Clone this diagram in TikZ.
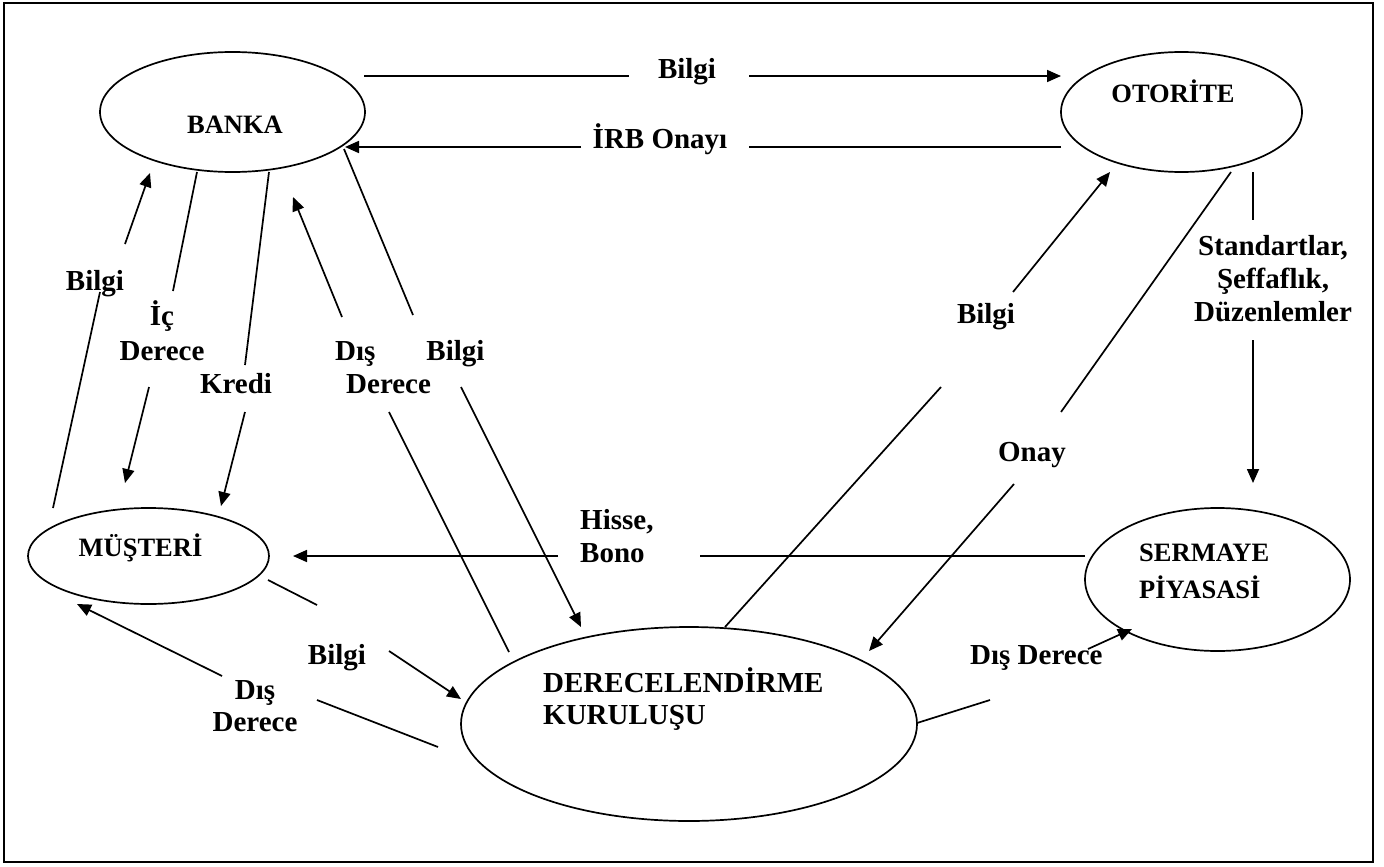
\documentclass[tikz,border=0pt]{standalone}
\usepackage{fontspec}
\setmainfont{Liberation Serif}
\usetikzlibrary{arrows.meta,shapes.geometric}
\tikzset{
  ell/.style={ellipse, draw, line width=1.7pt, inner sep=0pt, outer sep=0pt},
  conn/.style={line width=1.7pt},
  arr/.style={conn, -{Triangle[length=14pt,width=12pt]}},
  lbl/.style={inner sep=0pt, font=\fontsize{29}{35}\selectfont\bfseries, anchor=base, align=center},
  ntext/.style={inner sep=0pt, font=\fontsize{26.5}{37}\selectfont\bfseries, anchor=base},
}
\begin{document}
\begin{tikzpicture}[x=1pt,y=-1pt]
\useasboundingbox (0,0) rectangle (1384,867);
\draw[line width=2.2pt] (4,3) rectangle (1373,862);

% ellipses
\node[ell, minimum width=265pt, minimum height=120pt] (banka) at (232.5,112) {};
\node[ntext] (bankaT) at (235,133) {BANKA};
\node[ell, minimum width=241pt, minimum height=120pt] (otorite) at (1181.5,112) {};
\node[ntext] (otoriteT) at (1173,102) {OTORİTE};
\node[ell, minimum width=241pt, minimum height=96pt] (musteri) at (148.5,556) {};
\node[ntext] (musteriT) at (140.5,556) {MÜŞTERİ};
\node[ell, minimum width=456pt, minimum height=194pt] (der) at (689,724) {};
\node[ntext, anchor=base west, align=left, font=\fontsize{29}{32}\selectfont\bfseries] (derT) at (543,724) {DERECELENDİRME\\KURULUŞU};
\node[ell, minimum width=265pt, minimum height=143pt] (ser) at (1217.5,579.5) {};
\node[ntext, anchor=base west, align=left] (serT) at (1139,598) {SERMAYE\\PİYASASİ};

% C1 Bilgi: BANKA -> OTORITE
\coordinate (c1a) at (364,76); \coordinate (c1b) at (629,76);
\coordinate (c1c) at (749,76); \coordinate (c1d) at (1061,76);
\draw[conn] (c1a) -- (c1b); \draw[arr] (c1c) -- (c1d);
\node[lbl] (l1) at (687,78) {Bilgi};

% C2 IRB Onayi: OTORITE -> BANKA
\coordinate (c2a) at (1061,147); \coordinate (c2b) at (749,147);
\coordinate (c2c) at (581,147); \coordinate (c2d) at (345,147);
\draw[conn] (c2a) -- (c2b); \draw[arr] (c2c) -- (c2d);
\node[lbl] (l2) at (660,148) {İRB Onayı};

% C3 Bilgi: MUSTERI -> BANKA
\coordinate (c3a) at (53,508); \coordinate (c3b) at (100,292);
\coordinate (c3c) at (125,244); \coordinate (c3d) at (150,173);
\draw[conn] (c3a) -- (c3b); \draw[arr] (c3c) -- (c3d);
\node[lbl] (l3) at (95,290) {Bilgi};

% C4 Ic Derece: BANKA -> MUSTERI
\coordinate (c4a) at (197,172); \coordinate (c4b) at (173,291);
\coordinate (c4c) at (149,387); \coordinate (c4d) at (125,483);
\draw[conn] (c4a) -- (c4b); \draw[arr] (c4c) -- (c4d);
\node[lbl] (l4) at (162,360) {İç\\Derece};

% C5 Kredi: BANKA -> MUSTERI
\coordinate (c5a) at (269,172); \coordinate (c5b) at (245,365);
\coordinate (c5c) at (245,412); \coordinate (c5d) at (221,506);
\draw[conn] (c5a) -- (c5b); \draw[arr] (c5c) -- (c5d);
\node[lbl] (l5) at (236,393) {Kredi};

% C6 Dis Derece: DER -> BANKA
\coordinate (c6a) at (509,652); \coordinate (c6b) at (389,412);
\coordinate (c6c) at (342,317); \coordinate (c6d) at (293,197);
\draw[conn] (c6a) -- (c6b); \draw[arr] (c6c) -- (c6d);
\node[lbl, anchor=base west] (l6a) at (335,360) {Dış};
\node[lbl, anchor=base west] (l6b) at (346,393) {Derece};

% C7 Bilgi: BANKA -> DER
\coordinate (c7a) at (344,149); \coordinate (c7b) at (413,315);
\coordinate (c7c) at (461,387); \coordinate (c7d) at (581,627);
\draw[conn] (c7a) -- (c7b); \draw[arr] (c7c) -- (c7d);
\node[lbl] (l7) at (455.5,360) {Bilgi};

% C8 Bilgi: DER -> OTORITE
\coordinate (c8a) at (725,627); \coordinate (c8b) at (941,387);
\coordinate (c8c) at (1013,292); \coordinate (c8d) at (1110,172);
\draw[conn] (c8a) -- (c8b); \draw[arr] (c8c) -- (c8d);
\node[lbl] (l8) at (986,323) {Bilgi};

% C9 Onay: OTORITE -> DER
\coordinate (c9a) at (1231,172); \coordinate (c9b) at (1061,412);
\coordinate (c9c) at (1014,484); \coordinate (c9d) at (869,651);
\draw[conn] (c9a) -- (c9b); \draw[arr] (c9c) -- (c9d);
\node[lbl] (l9) at (1032,461) {Onay};

% C10 Standartlar: OTORITE -> SERMAYE
\coordinate (c10a) at (1253,172); \coordinate (c10b) at (1253,220);
\coordinate (c10c) at (1253,340); \coordinate (c10d) at (1253,483);
\draw[conn] (c10a) -- (c10b); \draw[arr] (c10c) -- (c10d);
\node[lbl, font=\fontsize{29}{33}\selectfont\bfseries] (l10) at (1273,321) {Standartlar,\\Şeffaflık,\\Düzenlemler};

% C11 Hisse, Bono: SERMAYE -> MUSTERI
\coordinate (c11a) at (1085,556); \coordinate (c11b) at (700,556);
\coordinate (c11c) at (558,556); \coordinate (c11d) at (293,556);
\draw[conn] (c11a) -- (c11b); \draw[arr] (c11c) -- (c11d);
\node[lbl, anchor=base west, align=left, font=\fontsize{29}{33}\selectfont\bfseries] (l11) at (580,562) {Hisse,\\Bono};

% C12 Bilgi: MUSTERI -> DER
\coordinate (c12a) at (268,580); \coordinate (c12b) at (317,605);
\coordinate (c12c) at (389,651); \coordinate (c12d) at (461,699);
\draw[conn] (c12a) -- (c12b); \draw[arr] (c12c) -- (c12d);
\node[lbl] (l12) at (337,664) {Bilgi};

% C13 Dis Derece: DER -> MUSTERI
\coordinate (c13a) at (438,747); \coordinate (c13b) at (317,700);
\coordinate (c13c) at (222,676); \coordinate (c13d) at (77,604);
\draw[conn] (c13a) -- (c13b); \draw[arr] (c13c) -- (c13d);
\node[lbl, font=\fontsize{29}{32}\selectfont\bfseries] (l13) at (255,731) {Dış\\Derece};

% C14 Dis Derece: DER -> SERMAYE
\coordinate (c14a) at (917,723); \coordinate (c14b) at (990,700);
\coordinate (c14c) at (1088,649); \coordinate (c14d) at (1132,629);
\node[lbl, anchor=base west] (l14) at (970,664) {Dış Derece};
\draw[conn] (c14a) -- (c14b); \draw[arr] (c14c) -- (c14d);
\end{tikzpicture}
\end{document}
